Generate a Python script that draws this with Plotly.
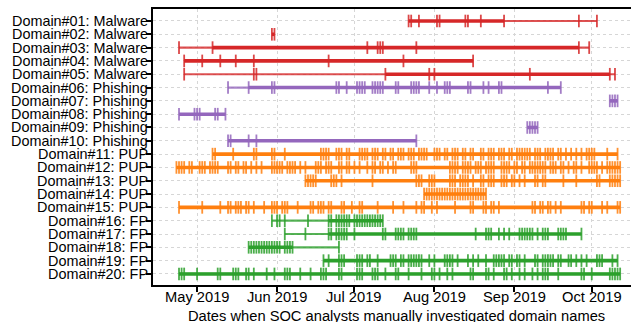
import plotly.graph_objects as go

YEAR = "2019"

labels = [
    "Domain#01: Malware", "Domain#02: Malware", "Domain#03: Malware", "Domain#04: Malware",
    "Domain#05: Malware", "Domain#06: Phishing", "Domain#07: Phishing", "Domain#08: Phishing",
    "Domain#09: Phishing", "Domain#10: Phishing", "Domain#11: PUP", "Domain#12: PUP",
    "Domain#13: PUP", "Domain#14: PUP", "Domain#15: PUP", "Domain#16: FP",
    "Domain#17: FP", "Domain#18: FP", "Domain#19: FP", "Domain#20: FP",
]
categories = ["Malware"] * 5 + ["Phishing"] * 5 + ["PUP"] * 5 + ["FP"] * 5

d01 = ["07-22", "07-23", "07-26", "08-02", "08-03", "08-13", "08-14", "08-19", "08-28", "09-26", "10-03"]
d02 = ["05-30", "05-31"]
d03 = ["04-24", "05-07", "07-06", "07-10", "07-11", "07-12", "07-25", "09-26", "09-30"]
d04 = ["04-26", "05-03", "05-10", "05-16", "05-23", "06-21", "07-20", "08-16"]
d05 = ["04-26", "05-23", "05-24", "07-13", "07-30", "08-01", "09-07", "10-08", "10-10"]
d06 = ["05-13", "05-21", "05-30", "05-31", "06-24", "06-25", "06-28", "07-02", "07-03", "07-04",
       "07-05", "07-08", "07-09", "07-10", "07-11", "07-12", "07-17", "07-18", "07-23", "07-24",
       "07-25", "07-26", "07-30", "08-02", "08-05", "08-06", "08-07", "08-14", "08-15", "08-20",
       "08-22", "08-26", "08-27", "09-14", "09-19"]
d07 = ["10-08", "10-09", "10-10", "10-11"]
d08 = ["04-24", "04-30", "05-01", "05-02", "05-08", "05-09", "05-12"]
d09 = ["09-06", "09-07", "09-08", "09-09", "09-10"]
d10 = ["05-13", "05-14", "05-21", "05-24", "07-25"]
d11 = ["05-07", "05-08", "05-15", "05-23", "05-24", "05-30", "05-31", "06-04", "06-18", "06-19",
       "06-20", "06-21", "06-24", "06-25", "06-26", "06-28", "06-29", "07-03", "07-04", "07-05",
       "07-06", "07-08", "07-09", "07-10", "07-12", "07-13", "07-15", "07-16", "07-18", "07-19",
       "07-20", "07-22", "07-23", "07-24", "07-26", "07-27", "07-28", "07-29", "08-01", "08-02",
       "08-03", "08-05", "08-06", "08-08", "08-09", "08-10", "08-12", "08-13", "08-15", "08-16",
       "08-19", "08-20", "08-22", "08-23", "08-24", "08-26", "08-27", "08-28", "08-30", "08-31",
       "09-02", "09-03", "09-04", "09-05", "09-06", "09-07", "09-09", "09-10", "09-11", "09-13",
       "09-14", "09-15", "09-16", "09-18", "09-19", "09-21", "09-23", "09-25", "09-27", "09-29",
       "09-30", "10-01", "10-02", "10-07", "10-11"]
d12 = ["04-23", "04-24", "04-25", "04-26", "04-28", "04-29", "05-02", "05-03", "05-04", "05-06",
       "05-07", "05-08", "05-09", "05-13", "05-14", "05-16", "05-17", "05-19", "05-20", "05-22",
       "05-24", "05-26", "05-30", "05-31", "06-01", "06-02", "06-03", "06-05", "06-06", "06-07",
       "06-08", "06-10", "06-12", "06-16", "06-17", "06-18", "06-20", "06-21", "06-22", "06-25",
       "06-26", "06-28", "06-29", "07-01", "07-03", "07-06", "07-08", "07-09", "07-11", "07-12",
       "07-14", "07-16", "07-17", "07-23", "07-24", "07-25", "08-07", "08-08", "08-09", "08-10",
       "08-12", "08-13", "08-14", "08-15", "08-17", "08-18", "08-19", "08-21", "08-22", "08-23",
       "08-24", "08-27", "08-28", "08-29", "08-30", "09-01", "09-02", "09-04", "09-05", "09-07",
       "09-08", "09-09", "09-10", "09-11", "09-12", "09-13", "09-15", "09-16", "09-17", "09-19",
       "09-20", "09-22", "09-24", "09-25", "09-27", "09-30", "10-01", "10-02", "10-03", "10-05",
       "10-07", "10-08", "10-09", "10-10", "10-11", "10-12"]
d13 = ["06-12", "06-13", "06-14", "06-15", "06-16", "06-22", "06-23", "06-24", "06-26", "07-08",
       "07-25", "07-26", "07-27", "07-30", "07-31", "08-01", "08-07", "08-08", "08-09", "08-11",
       "08-12", "08-13", "08-14", "08-16", "08-19", "08-20", "08-22", "08-23", "08-24", "08-27",
       "08-28", "08-29", "08-31", "09-01", "09-03", "09-05", "09-09", "09-10", "09-12", "09-13",
       "09-20", "09-25", "10-03", "10-04", "10-08", "10-09", "10-10", "10-11", "10-12"]
d14 = ["07-28", "07-29", "07-30", "07-31", "08-01", "08-02", "08-03", "08-04", "08-05", "08-06",
       "08-07", "08-08", "08-09", "08-10", "08-11", "08-12", "08-13", "08-14", "08-15", "08-16",
       "08-17", "08-18", "08-19", "08-20", "08-21"]
d15 = ["04-24", "05-03", "05-10", "05-13", "05-14", "05-16", "05-17", "05-18", "05-20", "05-21",
       "05-23", "05-27", "05-30", "05-31", "06-01", "06-03", "06-04", "06-05", "06-09", "06-14",
       "06-15", "06-17", "06-18", "06-19", "06-21", "06-22", "06-26", "06-27", "06-30", "07-03",
       "07-04", "07-10", "07-16", "07-20", "07-25", "07-27", "07-28", "07-31", "08-02", "08-09",
       "08-15", "08-16", "08-20", "08-21", "08-23", "08-24", "08-26", "09-08", "09-09", "09-11",
       "09-12", "09-14", "09-15", "09-17", "09-19", "09-27", "09-28", "09-30", "10-01", "10-05",
       "10-07", "10-11", "10-12"]
d16 = ["05-30", "06-01", "06-02", "06-04", "06-13", "06-21", "06-22", "06-24", "06-25", "06-26",
       "06-27", "06-28", "06-29", "07-01", "07-02", "07-03", "07-04", "07-05", "07-06", "07-07",
       "07-08", "07-09", "07-10", "07-11", "07-12"]
d17 = ["06-04", "06-12", "06-21", "06-22", "06-24", "06-25", "06-26", "06-27", "06-28", "07-01",
       "07-12", "07-13", "07-17", "07-18", "07-19", "07-20", "07-22", "07-23", "07-24", "07-25",
       "08-17", "08-21", "08-22", "08-23", "08-26", "08-28", "08-30", "09-03", "09-04", "09-05",
       "09-06", "09-07", "09-08", "09-10", "09-12", "09-13", "09-14", "09-18", "09-19", "09-20",
       "09-21", "09-27"]
d18 = ["05-21", "05-22", "05-23", "05-24", "05-25", "05-26", "05-27", "05-28", "05-29", "05-30",
       "05-31", "06-01", "06-02", "06-04", "06-05", "06-06", "06-07", "06-25"]
d19 = ["06-19", "06-21", "06-25", "06-26", "06-27", "07-02", "07-03", "07-04", "07-06", "07-07",
       "07-10", "07-15", "07-16", "07-17", "07-19", "07-20", "07-22", "07-23", "07-24", "07-25",
       "07-26", "07-27", "07-30", "08-01", "08-05", "08-06", "08-07", "08-08", "08-10", "08-14",
       "08-16", "08-18", "08-21", "08-24", "08-25", "08-26", "08-27", "08-28", "08-30", "08-31",
       "09-02", "09-03", "09-05", "09-09", "09-10", "09-12", "09-13", "09-14", "09-15", "09-16",
       "09-18", "09-19", "09-22", "09-23", "09-25", "09-27", "09-29", "10-03", "10-04", "10-05",
       "10-09", "10-11"]
d20 = ["04-24", "04-25", "04-26", "05-01", "05-09", "05-10", "05-15", "05-16", "05-17", "05-20",
       "05-21", "05-23", "05-28", "05-31", "06-04", "06-05", "06-06", "06-10", "06-14", "06-18",
       "06-19", "06-20", "06-25", "06-26", "07-02", "07-03", "07-04", "07-08", "07-09", "07-10",
       "07-13", "07-17", "07-18", "07-22", "07-27", "07-31", "08-01", "08-03", "08-06", "08-08",
       "08-15", "08-16", "08-21", "08-22", "08-24", "08-28", "08-29", "08-31", "09-03", "09-05",
       "09-08", "09-10", "09-12", "09-13", "09-14", "09-18", "09-27", "09-28", "10-01", "10-08",
       "10-09", "10-10", "10-11", "10-12"]

dates = [d01, d02, d03, d04, d05, d06, d07, d08, d09, d10,
         d11, d12, d13, d14, d15, d16, d17, d18, d19, d20]

# stretch drawn heavier (start, end) per domain; None = whole range
heavy_start = ["07-22", None, "05-07", None, "07-13", "05-21", None, None, None, None,
               None, None, None, None, None, "06-21", "06-21", "05-21", None, None]
heavy_end = ["08-28", None, "09-26", None, "10-08", "09-19", None, None, None, None,
             None, None, None, None, None, "07-12", "09-27", "06-07", None, None]

xtick_vals = ["05-01", "06-01", "07-01", "08-01", "09-01", "10-01"]
xtick_text = ["May 2019", "Jun 2019", "Jul 2019", "Aug 2019", "Sep 2019", "Oct 2019"]
x_title = "Dates when SOC analysts manually investigated domain names"

colors = {"Malware": "#d62728", "Phishing": "#9467bd", "PUP": "#ff7f0e", "FP": "#2ca02c"}

FONT = "Liberation Sans, Arial, sans-serif"
PLOT_L, PLOT_T, PLOT_W, PLOT_H = 153, 9, 478, 276


def full(d):
    return f"{YEAR}-{d}"


fig = go.Figure()
for i, (lab, cat, ds) in enumerate(zip(labels, categories, dates)):
    c = colors[cat]
    xs = [full(d) for d in ds]
    fig.add_trace(go.Scatter(
        x=[xs[0], xs[-1]], y=[i, i], mode="lines",
        line=dict(color=c, width=2.2), opacity=0.8, showlegend=False, hoverinfo="skip"))
    hs = heavy_start[i] or ds[0]
    he = heavy_end[i] or ds[-1]
    fig.add_trace(go.Scatter(
        x=[full(hs), full(he)], y=[i, i], mode="lines",
        line=dict(color=c, width=3.6), showlegend=False, hoverinfo="skip"))
    fig.add_trace(go.Scatter(
        x=xs, y=[i] * len(xs), mode="markers", name=lab,
        marker=dict(symbol="line-ns", size=9, color=c, opacity=0.85,
                    line=dict(color=c, width=1.8)),
        showlegend=False))

annotations = []
# y tick labels
for i, lab in enumerate(labels):
    annotations.append(dict(text=lab, xref="paper", yref="y", x=(150 - PLOT_L) / PLOT_W, y=i,
                            xanchor="right", yanchor="middle", showarrow=False,
                            font=dict(size=14.4, family=FONT, color="black")))
# x tick labels
for v, t in zip(xtick_vals, xtick_text):
    annotations.append(dict(text=t, xref="x", yref="paper", x=full(v), y=-11.5 / PLOT_H,
                            xanchor="center", yanchor="middle", showarrow=False,
                            font=dict(size=14.7, family=FONT, color="black")))
# x axis title
annotations.append(dict(text=x_title, xref="paper", yref="paper",
                        x=(396 - PLOT_L) / PLOT_W, y=-31 / PLOT_H,
                        xanchor="center", yanchor="middle", showarrow=False,
                        font=dict(size=14.7, family=FONT, color="black")))

fig.update_layout(
    width=631, height=322,
    margin=dict(l=PLOT_L, r=0, t=PLOT_T, b=322 - PLOT_T - PLOT_H, autoexpand=False),
    paper_bgcolor="white", plot_bgcolor="white",
    font=dict(family=FONT, size=14.4, color="black"),
    annotations=annotations,
)
fig.update_xaxes(
    type="date",
    range=["2019-04-13 22:00", "2019-10-16 05:00"],
    tickvals=[full(v) for v in xtick_vals], showticklabels=False,
    ticks="outside", ticklen=5, tickwidth=1.5, tickcolor="black",
    showline=True, linecolor="black", linewidth=2, mirror=True,
    showgrid=True, gridcolor="#d6d6d6", griddash="dot", gridwidth=1,
    zeroline=False, automargin=False,
)
fig.update_yaxes(
    range=[19.83, -0.9],
    tickvals=list(range(len(labels))), showticklabels=False,
    ticks="outside", ticklen=5, tickwidth=1.5, tickcolor="black",
    showline=True, linecolor="black", linewidth=2, mirror=False,
    showgrid=True, gridcolor="#d6d6d6", griddash="dot", gridwidth=1,
    zeroline=False, automargin=False,
)

fig.write_html("out.html", config={"displayModeBar": False},
               post_script="document.body.style.margin='0';")
